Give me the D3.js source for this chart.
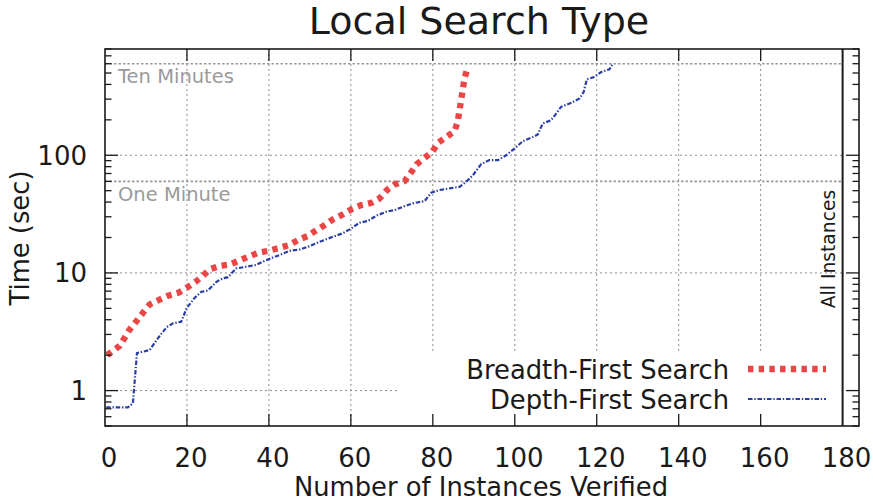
<!DOCTYPE html>
<html>
<head>
<meta charset="utf-8">
<script src="https://cdn.jsdelivr.net/npm/d3@7"></script>
<style>
  body { margin: 0; background: #fff; }
  text { font-family: "DejaVu Sans", sans-serif; fill: #1a1a1a; }
</style>
</head>
<body>
<div id="chart"></div>
<script>
// Datos (instancias verificadas, tiempo en segundos)
var bfsInstances = [0.5, 3.6, 6, 7.7, 9.3, 10.9, 13.2, 15.4, 18, 20, 22.1, 23.8, 25.5, 28, 30.4, 32.7, 34.9, 37.3, 39.8, 42.2, 44.8,
  47.5, 49.5, 51.6, 53.6, 55.6, 58, 60.1, 62.5, 65, 67, 68.8, 70.7, 73.1, 74.5, 76, 78, 79.9, 81.2, 83.3, 85.3, 86.1, 86.5, 86.9, 87.3, 87.7, 88.5];
var bfsTimes = [2.0, 2.4, 3.3, 3.9, 4.6, 5.4, 5.9, 6.4, 6.8, 7.5, 8.4, 9.4, 10.7, 11.5, 11.8, 12.7, 13.7, 14.8, 15.4, 16.2, 17.2,
  19.3, 20.6, 23.1, 25.5, 28.5, 31.4, 34.7, 37.7, 39.4, 43, 50.6, 56.5, 60.3, 70, 83.5, 95, 107, 127, 143, 160, 195, 241, 294, 362, 443, 560];

var dfsInstances = [0.3, 5.6, 6.8, 7.8, 9.3, 10.9, 12.9, 15, 16.6, 18.6, 19.9, 21.9, 23.5, 25.1, 27.2, 28.8, 30, 32, 34.5, 36.9, 39, 41,
  42.6, 45, 47.5, 49.9, 52.4, 55.6, 58, 60.1, 62.1, 64.1, 66.2, 68.6, 70.7, 72.7, 75.1, 78, 79.6, 81.6, 84.1, 86.5, 88.1, 89.8, 91.8,
  93.8, 95.9, 97.9, 99.9, 102, 104.4, 105.6, 106.8, 108.9, 110.1, 111.3, 113.8, 115.8, 116.8, 117.6, 119.4, 121.1, 123.1, 123.9];
var dfsTimes = [0.72, 0.72, 0.78, 2.08, 2.14, 2.21, 2.78, 3.45, 3.73, 3.85, 5.0, 6.15, 6.9, 7.1, 8.4, 9.0, 9.2, 10.9, 11.3, 11.7, 12.7, 13.5,
  14.2, 15.4, 15.8, 16.9, 18.4, 20.3, 21.7, 23.9, 26.7, 27.6, 30.6, 33.1, 34.2, 36.5, 39, 40.8, 48, 50.6, 52.3, 53.9, 59.4, 67.8, 84,
  90.9, 90.9, 100, 114, 132, 143, 150, 186, 199, 226, 258, 279, 304, 345, 443, 463, 510, 538, 600];

var seriesNames = ["Breadth-First Search", "Depth-First Search"];
var xTicks = [0, 20, 40, 60, 80, 100, 120, 140, 160, 180];
var yTicks = [1, 10, 100];
var limitTimes = [600, 60];
var limitLabels = ["Ten Minutes", "One Minute"];
var allInstances = 180;

// Configuracion basica
var width = 873, height = 503,
    margin = {top: 49, right: 14, bottom: 77, left: 105};

var svg = d3.select("#chart").append("svg")
  .attr("width", width)
  .attr("height", height);

var x = d3.scaleLinear().domain([0, 184]).range([margin.left, width - margin.right]);
var y = d3.scaleLog().domain([0.5, 800]).range([height - margin.bottom, margin.top]);

var plotLeft = x.range()[0], plotRight = x.range()[1],
    plotTop = y.range()[1], plotBottom = y.range()[0];
var xEnd = x(allInstances);

var gridColor = "#8c8c8c";
var innerX = xTicks.filter(function(d) { return d > 0 && d < allInstances; });

// Rejilla vertical
svg.selectAll(".vgrid")
  .data(innerX)
  .enter().append("line")
  .attr("x1", function(d) { return x(d); })
  .attr("x2", function(d) { return x(d); })
  .attr("y1", plotBottom)
  .attr("y2", plotTop)
  .style("stroke", gridColor)
  .style("stroke-width", 1)
  .style("stroke-dasharray", "2,3");

// Rejilla horizontal
svg.selectAll(".hgrid")
  .data(yTicks)
  .enter().append("line")
  .attr("x1", plotLeft)
  .attr("x2", xEnd)
  .attr("y1", function(d) { return y(d); })
  .attr("y2", function(d) { return y(d); })
  .style("stroke", gridColor)
  .style("stroke-width", 1)
  .style("stroke-dasharray", "2,3");

// Lineas de limite (diez minutos, un minuto)
svg.selectAll(".limit")
  .data(limitTimes)
  .enter().append("line")
  .attr("x1", plotLeft)
  .attr("x2", xEnd)
  .attr("y1", function(d) { return y(d); })
  .attr("y2", function(d) { return y(d); })
  .style("stroke", "#999")
  .style("stroke-width", 1.6)
  .style("stroke-dasharray", "2.5,2");

svg.selectAll(".limitLabel")
  .data(limitTimes)
  .enter().append("text")
  .attr("x", plotLeft + 13)
  .attr("y", function(d) { return y(d) + 19.5; })
  .style("font-size", "19.5px")
  .style("fill", "#9a9a9a")
  .text(function(d, i) { return limitLabels[i]; });

// Caja de la leyenda (opaca)
svg.append("rect")
  .attr("x", 400)
  .attr("y", 353)
  .attr("width", xEnd - 400 - 1)
  .attr("height", plotBottom - 353 - 1)
  .style("fill", "#fff");

// Curvas
var line = d3.line()
  .x(function(d) { return x(d[0]); })
  .y(function(d) { return y(d[1]); });

var bfs = bfsInstances.map(function(d, i) { return [d, bfsTimes[i]]; });
var dfs = dfsInstances.map(function(d, i) { return [d, dfsTimes[i]]; });

var styles = [
  {color: "#ea4646", width: 6.3, dash: "5.4,5.3"},
  {color: "#2b3ea8", width: 2.2, dash: "4.5,1.8,1.4,1.8"}
];

svg.append("path")
  .datum(dfs)
  .attr("d", line)
  .style("fill", "none")
  .style("stroke", styles[1].color)
  .style("stroke-width", styles[1].width)
  .style("stroke-dasharray", styles[1].dash);

svg.append("path")
  .datum(bfs)
  .attr("d", line)
  .style("fill", "none")
  .style("stroke", styles[0].color)
  .style("stroke-width", styles[0].width)
  .style("stroke-dasharray", styles[0].dash);

// Leyenda
var legend = svg.selectAll(".legend")
  .data(seriesNames)
  .enter().append("g")
  .attr("transform", function(d, i) { return "translate(0," + (369 + i * 30) + ")"; });

legend.append("text")
  .attr("x", 729)
  .attr("dy", 9.5)
  .style("text-anchor", "end")
  .style("font-size", "25.8px")
  .text(function(d) { return d; });

legend.append("line")
  .attr("x1", 748)
  .attr("x2", 826)
  .style("stroke", function(d, i) { return styles[i].color; })
  .style("stroke-width", function(d, i) { return styles[i].width; })
  .style("stroke-dasharray", function(d, i) { return styles[i].dash; });

// Linea de todas las instancias
svg.append("line")
  .attr("x1", xEnd).attr("x2", xEnd)
  .attr("y1", plotTop).attr("y2", plotBottom)
  .style("stroke", "#1a1a1a")
  .style("stroke-width", 2);

svg.append("text")
  .attr("transform", "translate(" + (xEnd - 8) + "," + 249 + ") rotate(-90)")
  .style("text-anchor", "middle")
  .style("font-size", "18.7px")
  .text("All Instances");

// Ejes: marcas hacia dentro
var tickColor = "#1a1a1a";
var minorTicks = [];
[0.1, 1, 10, 100].forEach(function(dec) {
  for (var k = 2; k <= 9; k++) {
    var v = dec * k;
    if (v >= 0.5 && v <= 800) minorTicks.push(v);
  }
});

function yTickLines(xPos, dir) {
  svg.selectAll(null)
    .data(yTicks)
    .enter().append("line")
    .attr("x1", xPos).attr("x2", xPos + dir * 13)
    .attr("y1", function(d) { return y(d); })
    .attr("y2", function(d) { return y(d); })
    .style("stroke", tickColor).style("stroke-width", 1.3);
  svg.selectAll(null)
    .data(minorTicks)
    .enter().append("line")
    .attr("x1", xPos).attr("x2", xPos + dir * 6.5)
    .attr("y1", function(d) { return y(d); })
    .attr("y2", function(d) { return y(d); })
    .style("stroke", tickColor).style("stroke-width", 1.3);
}
yTickLines(plotLeft, 1);
yTickLines(plotRight, -1);

svg.selectAll(null)
  .data(innerX)
  .enter().append("line")
  .attr("x1", function(d) { return x(d); })
  .attr("x2", function(d) { return x(d); })
  .attr("y1", plotBottom).attr("y2", plotBottom - 12)
  .style("stroke", tickColor).style("stroke-width", 1.3);

svg.selectAll(null)
  .data(innerX)
  .enter().append("line")
  .attr("x1", function(d) { return x(d); })
  .attr("x2", function(d) { return x(d); })
  .attr("y1", plotTop).attr("y2", plotTop + 12)
  .style("stroke", tickColor).style("stroke-width", 1.3);

// Borde
svg.append("rect")
  .attr("x", plotLeft).attr("y", plotTop)
  .attr("width", plotRight - plotLeft).attr("height", plotBottom - plotTop)
  .style("fill", "none")
  .style("stroke", "#1a1a1a")
  .style("stroke-width", 1.6);

// Etiquetas de marcas
svg.selectAll(".xlabel")
  .data(xTicks)
  .enter().append("text")
  .attr("x", function(d) { return x(d) + 4; })
  .attr("y", 467)
  .style("text-anchor", "middle")
  .style("font-size", "26px")
  .text(function(d) { return d; });

svg.selectAll(".ylabel")
  .data(yTicks)
  .enter().append("text")
  .attr("x", 87)
  .attr("y", function(d) { return y(d) + 9.5; })
  .style("text-anchor", "end")
  .style("font-size", "26px")
  .text(function(d) { return d; });

// Titulos
svg.append("text")
  .attr("x", 479)
  .attr("y", 34)
  .style("text-anchor", "middle")
  .style("font-size", "38px")
  .text("Local Search Type");

svg.append("text")
  .attr("x", 481)
  .attr("y", 496)
  .style("text-anchor", "middle")
  .style("font-size", "25.8px")
  .text("Number of Instances Verified");

svg.append("text")
  .attr("transform", "translate(29," + 238 + ") rotate(-90)")
  .style("text-anchor", "middle")
  .style("font-size", "25.8px")
  .text("Time (sec)");
</script>
</body>
</html>
